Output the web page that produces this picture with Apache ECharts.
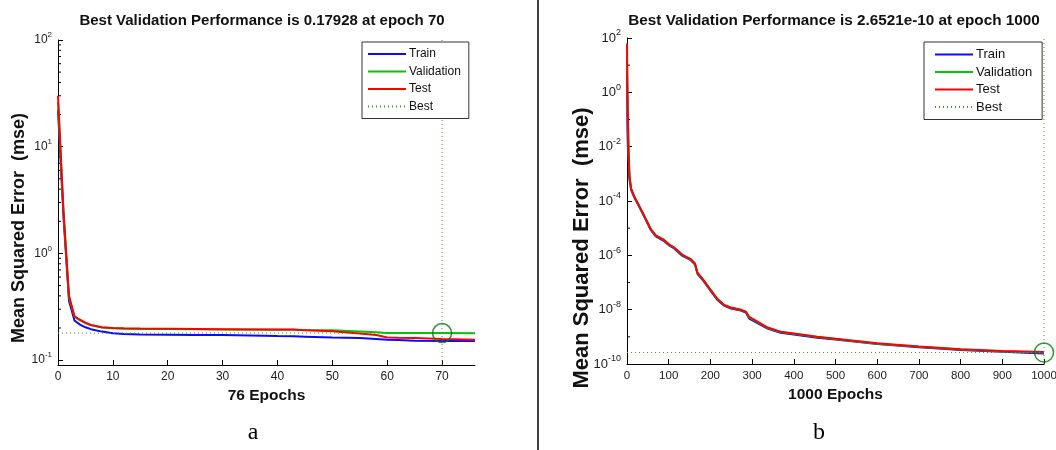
<!DOCTYPE html>
<html><head><meta charset="utf-8">
<script src="https://cdn.jsdelivr.net/npm/echarts@6/dist/echarts.min.js"></script>
<style>html,body{margin:0;padding:0;background:#fff}#c{width:1056px;height:450px}</style>
</head><body><div id="c"></div>
<script>
// ---------- Panel a (76 epochs) ----------
const titleA = 'Best Validation Performance is 0.17928 at epoch 70';
const xNameA = '76 Epochs';
const epochsA = [0,1,2,3,4,5,6,8,10,12,15,20,25,30,35,40,43,45,50,55,58,60,62,65,70,76];
const trainA = [22,2.2,0.36,0.235,0.215,0.203,0.195,0.185,0.179,0.176,0.174,0.173,0.172,0.172,0.170,0.168,0.167,0.166,0.163,0.161,0.158,0.155,0.154,0.152,0.151,0.151];
const valA   = [26,2.4,0.39,0.255,0.236,0.222,0.212,0.202,0.199,0.197,0.196,0.196,0.195,0.194,0.194,0.193,0.193,0.192,0.190,0.185,0.182,0.180,0.1795,0.1795,0.17928,0.179];
const testA  = [30,2.5,0.40,0.257,0.239,0.224,0.214,0.203,0.200,0.199,0.198,0.197,0.196,0.195,0.194,0.194,0.194,0.190,0.186,0.178,0.172,0.163,0.162,0.161,0.158,0.155];
const bestEpochA = 70, bestPerfA = 0.17928;
const xMaxA = 76, yMinA = 0.09, yMaxA = 100;
const minorTicksA = [0.2,0.3,0.4,0.5,0.6,0.7,0.8,0.9,2,3,4,5,6,7,8,9,20,30,40,50,60,70,80,90];

// ---------- Panel b (1000 epochs) ----------
const titleB = 'Best Validation Performance is 2.6521e-10 at epoch 1000';
const xNameB = '1000 Epochs';
const epochsB = [0,1,2,4,6,10,18,37,57,69,89,101,113,133,153,163,169,185,201,217,233,249,273,285,293,313,337,368,400,456,500,600,700,800,900,1000];
const trainB = [5.5,0.05,0.01,2e-3,6e-4,2.5e-4,1.3e-4,3.6e-5,8.6e-6,5.0e-6,3.3e-6,2.3e-6,1.8e-6,9.5e-7,6.6e-7,4.6e-7,2.1e-7,1.05e-7,4.8e-8,2.25e-8,1.4e-8,1.1e-8,9.3e-9,7.8e-9,4.7e-9,3.2e-9,2.0e-9,1.4e-9,1.22e-9,9.3e-10,7.9e-10,5.4e-10,4.1e-10,3.25e-10,2.8e-10,2.45e-10];
const valB   = [20,1.0,0.1,5e-3,8e-4,2.8e-4,1.4e-4,3.8e-5,9.1e-6,5.3e-6,3.6e-6,2.45e-6,1.9e-6,1.02e-6,7.0e-7,4.9e-7,2.25e-7,1.12e-7,5.1e-8,2.4e-8,1.47e-8,1.18e-8,9.8e-9,8.3e-9,5.2e-9,3.5e-9,2.15e-9,1.5e-9,1.29e-9,9.8e-10,8.3e-10,5.6e-10,4.3e-10,3.4e-10,2.95e-10,2.6521e-10];
const testB  = [63,1.6,0.2,5e-3,8e-4,2.8e-4,1.4e-4,3.9e-5,9.3e-6,5.4e-6,3.7e-6,2.5e-6,1.95e-6,1.05e-6,7.2e-7,5.0e-7,2.3e-7,1.15e-7,5.2e-8,2.45e-8,1.5e-8,1.2e-8,1.0e-8,8.5e-9,5.4e-9,3.6e-9,2.2e-9,1.55e-9,1.32e-9,1.0e-9,8.5e-10,5.75e-10,4.4e-10,3.5e-10,3.0e-10,2.75e-10];
const bestEpochB = 1000, bestPerfB = 2.6521e-10;
const xMaxB = 1000, yMinB = 1e-10, yMaxB = 100;
const minorTicksB = [1e1,1e-1,1e-3,1e-5,1e-7,1e-9];

const seriesNames = ['Train','Validation','Test','Best'];
const C_TRAIN = '#0a0aff', C_VAL = '#00c800', C_TEST = '#ff0000', C_BEST = '#3a9a3a', C_CIRCLE = '#0b7a0b';
const FONT = 'Liberation Sans, Arial, sans-serif';

function pairs(xs, ys){ return xs.map((x,i)=>[x, ys[i]]); }
function expLabel(v){
  const e = Math.log10(v), r = Math.round(e);
  if (Math.abs(e - r) > 1e-6) return '';
  return '{b|10}{e|' + r + '}';
}
function richFor(sz){
  return { b:{fontSize:sz, lineHeight:sz+6, fontFamily:FONT, color:'#222'},
           e:{fontSize:Math.round(sz*0.68), verticalAlign:'top', fontFamily:FONT, color:'#222'} };
}
function panelSeries(idx, xs, tr, va, te, bestEp, bestPerf, xMax, yMin, yMax, minor){
  const base = {type:'line', xAxisIndex:idx, yAxisIndex:idx, symbol:'none', animation:false};
  return [
    Object.assign({}, base, {name:'Train', data:pairs(xs,tr), lineStyle:{color:C_TRAIN,width:2}, itemStyle:{color:C_TRAIN}}),
    Object.assign({}, base, {name:'Validation', data:pairs(xs,va), lineStyle:{color:C_VAL,width:2}, itemStyle:{color:C_VAL}}),
    Object.assign({}, base, {name:'Test', data:pairs(xs,te), lineStyle:{color:C_TEST,width:2}, itemStyle:{color:C_TEST}}),
    Object.assign({}, base, {name:'Best', data:[[0,bestPerf],[xMax,bestPerf],['-','-'],[bestEp,yMin],[bestEp,yMax]],
      connectNulls:false, lineStyle:{color:C_BEST,width:1,type:[1,3]}, itemStyle:{color:C_BEST}}),
    {type:'scatter', name:'bestCircle'+idx, xAxisIndex:idx, yAxisIndex:idx, data:[[bestEp,bestPerf]], symbol:'circle', symbolSize:19,
      itemStyle:{color:'rgba(0,0,0,0)', borderColor:C_CIRCLE, borderWidth:1.6}, silent:true, animation:false, z:5},
    {type:'custom', name:'minor'+idx, xAxisIndex:idx, yAxisIndex:idx, silent:true, animation:false,
      data:minor.map(v=>[0,v]),
      renderItem:function(params, api){
        const p = api.coord([api.value(0), api.value(1)]);
        return {type:'line', shape:{x1:p[0], y1:p[1], x2:p[0]+3, y2:p[1]}, style:{stroke:'#000', lineWidth:1}};
      }}
  ];
}
function xAxisCfg(idx, max, interval, name, nameSize, labelSize, showMax){
  return {type:'value', gridIndex:idx, min:0, max:max, interval:interval,
    name:name, nameLocation:'middle', nameGap:20,
    nameTextStyle:{fontSize:nameSize, fontWeight:'bold', fontFamily:FONT, color:'#111'},
    axisLine:{lineStyle:{color:'#000',width:1}},
    axisTick:{inside:true, length:5, lineStyle:{color:'#000'}},
    axisLabel:{fontSize:labelSize, fontFamily:FONT, color:'#222', margin:6, showMaxLabel:showMax,
      formatter:function(v){ return String(v); }},
    splitLine:{show:false}};
}
function yAxisCfg(idx, min, max, base, labelSize){
  return {type:'log', gridIndex:idx, min:min, max:max, logBase:base,
    axisLine:{lineStyle:{color:'#000',width:1}},
    axisTick:{inside:true, length:5, lineStyle:{color:'#000'}},
    axisLabel:{formatter:expLabel, rich:richFor(labelSize), margin:6},
    splitLine:{show:false}, minorTick:{show:false}};
}
const legendBase = {orient:'vertical', backgroundColor:'#fff', borderColor:'#333', borderWidth:1, borderRadius:0,
  itemWidth:38, itemHeight:10, data:seriesNames, selectedMode:false,
  itemStyle:{opacity:0, color:'rgba(0,0,0,0)', borderWidth:0}};

const chart = echarts.init(document.getElementById('c'), null, {renderer:'canvas'});
chart.setOption({
  backgroundColor:'#fff',
  animation:false,
  title:[
    {text:titleA, left:262, top:13, textAlign:'center', padding:0, textStyle:{fontSize:15, fontWeight:'bold', fontFamily:FONT, color:'#111'}},
    {text:titleB, left:834, top:13, textAlign:'center', padding:0, textStyle:{fontSize:15.3, fontWeight:'bold', fontFamily:FONT, color:'#111'}}
  ],
  legend:[
    Object.assign({}, legendBase, {left:362, top:42, padding:[6,8,6,5], itemGap:5.5,
      textStyle:{fontSize:12, fontFamily:FONT, color:'#111', padding:[0,0,0,-2]}}),
    Object.assign({}, legendBase, {left:924, top:42, padding:[6,10,6,10], itemGap:4.5,
      textStyle:{fontSize:13, fontFamily:FONT, color:'#111', padding:[0,0,0,-2]}})
  ],
  grid:[
    {left:58, top:40, width:417, height:325, outerBoundsMode:'none'},
    {left:627, top:38, width:417, height:326, outerBoundsMode:'none'}
  ],
  xAxis:[ xAxisCfg(0, xMaxA, 10, xNameA, 15.5, 12, false), xAxisCfg(1, xMaxB, 100, xNameB, 15.5, 11.5, true) ],
  yAxis:[ yAxisCfg(0, yMinA, yMaxA, 10, 12), yAxisCfg(1, yMinB, yMaxB, 100, 13) ],
  series: panelSeries(0, epochsA, trainA, valA, testA, bestEpochA, bestPerfA, xMaxA, yMinA, yMaxA, minorTicksA)
    .concat(panelSeries(1, epochsB, trainB, valB, testB, bestEpochB, bestPerfB, xMaxB, yMinB, yMaxB, minorTicksB)),
  graphic:[
    {type:'text', x:19, y:228, rotation:Math.PI/2, style:{text:'Mean Squared Error  (mse)', align:'center', verticalAlign:'middle',
      font:'bold 18px ' + FONT, fill:'#111'}},
    {type:'text', x:582, y:248, rotation:Math.PI/2, style:{text:'Mean Squared Error  (mse)', align:'center', verticalAlign:'middle',
      font:'bold 22px ' + FONT, fill:'#111'}},
    {type:'line', shape:{x1:538, y1:0, x2:538, y2:450}, style:{stroke:'#000', lineWidth:1.5}},
    {type:'text', x:253, y:433, style:{text:'a', align:'center', verticalAlign:'middle', font:'24px Liberation Serif, serif', fill:'#000'}},
    {type:'text', x:819, y:433, style:{text:'b', align:'center', verticalAlign:'middle', font:'24px Liberation Serif, serif', fill:'#000'}}
  ]
});
</script></body></html>
